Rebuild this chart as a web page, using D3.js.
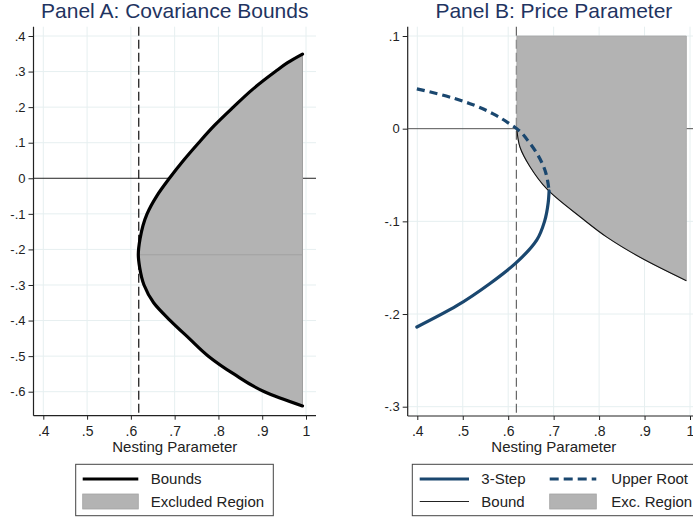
<!DOCTYPE html>
<html>
<head>
<meta charset="utf-8">
<script src="https://cdn.jsdelivr.net/npm/d3@7"></script>
<style>
  body { margin: 0; background: #fff; }
  text { font-family: Arial, 'Liberation Sans', Helvetica, sans-serif; }
</style>
</head>
<body>
<div id="canvas"></div>
<script>
// values
const xTicks = [0.4, 0.5, 0.6, 0.7, 0.8, 0.9, 1];
const yTicksA = [-0.6, -0.5, -0.4, -0.3, -0.2, -0.1, 0, 0.1, 0.2, 0.3, 0.4];
const yTicksB = [-0.3, -0.2, -0.1, 0, 0.1];
const cutoff = 0.618;

// panel A: bound traced from top end, round the tip, to bottom end
const boundA_x = [0.992, 0.958, 0.930, 0.878, 0.834, 0.792, 0.755, 0.720, 0.688, 0.659, 0.637, 0.621, 0.617,
                  0.620, 0.630, 0.652, 0.690, 0.733, 0.777, 0.835, 0.905, 0.992];
const boundA_y = [0.349, 0.325, 0.3, 0.25, 0.2, 0.15, 0.1, 0.05, 0, -0.05, -0.1, -0.17, -0.215,
                  -0.25, -0.3, -0.35, -0.4, -0.45, -0.5, -0.55, -0.6, -0.64];
const tipA = -0.215;

// panel B
const stepB_x = [0.399, 0.487, 0.560, 0.619, 0.663, 0.680, 0.688, 0.690];
const stepB_y = [-0.214, -0.191, -0.167, -0.144, -0.120, -0.100, -0.080, -0.067];
const rootB_x = [0.399, 0.450, 0.516, 0.567, 0.604, 0.619, 0.648, 0.678, 0.690];
const rootB_y = [0.043, 0.037, 0.027, 0.016, 0.005, 0, -0.016, -0.041, -0.067];
const boundB_x = [0.619, 0.626, 0.648, 0.685, 0.758, 0.817, 0.891, 0.992];
const boundB_y = [0, -0.020, -0.041, -0.065, -0.095, -0.117, -0.139, -0.164];
const excTopB = 0.1;

const W = 693, H = 521;
const navy = '#1a476f', fillGray = '#b3b3b3', gridCol = '#e6eff0', titleCol = '#1f3461';

const svg = d3.select('#canvas').append('svg')
  .attr('width', W).attr('height', H);

const fmt = d => String(Math.round(d * 10) / 10).replace(/^(-?)0\./, '$1.');

const panel = (cfg) => {
  const { left, right, top, bottom, x, y, yTicks, title } = cfg;
  const g = svg.append('g');

  // grid
  g.selectAll('.vg').data(xTicks).enter().append('line')
    .attr('x1', d => x(d)).attr('x2', d => x(d))
    .attr('y1', top).attr('y2', bottom)
    .attr('stroke', gridCol).attr('stroke-width', 1);
  g.selectAll('.hg').data(yTicks.filter(d => d !== 0)).enter().append('line')
    .attr('x1', left).attr('x2', right)
    .attr('y1', d => y(d)).attr('y2', d => y(d))
    .attr('stroke', gridCol).attr('stroke-width', 1);

  // axes
  const yAxis = d3.axisLeft(y).tickValues(yTicks).tickFormat(fmt).tickSize(5).tickSizeOuter(0).tickPadding(3);
  const ya = g.append('g').attr('transform', `translate(${left},0)`).call(yAxis);
  ya.select('.domain').remove();
  ya.selectAll('text').attr('font-size', '13px').attr('fill', '#222');
  ya.selectAll('line').attr('stroke', '#222');

  const xAxis = d3.axisBottom(x).tickValues(xTicks).tickFormat(fmt).tickSize(4).tickSizeOuter(0).tickPadding(6);
  const xa = g.append('g').attr('transform', `translate(0,${bottom})`).call(xAxis);
  xa.select('.domain').remove();
  xa.selectAll('text').attr('font-size', '14px').attr('fill', '#222');
  xa.selectAll('line').attr('stroke', '#222');

  g.append('line').attr('x1', left).attr('x2', left).attr('y1', top).attr('y2', bottom)
    .attr('stroke', '#222').attr('stroke-width', 1.2);
  g.append('line').attr('x1', left).attr('x2', right).attr('y1', bottom).attr('y2', bottom)
    .attr('stroke', '#222').attr('stroke-width', 1.2);

  g.append('text').text(title)
    .attr('x', (left + right) / 2).attr('y', 18)
    .attr('text-anchor', 'middle').attr('font-size', '21px').attr('fill', titleCol);
  g.append('text').text('Nesting Parameter')
    .attr('x', (left + right) / 2).attr('y', 452)
    .attr('text-anchor', 'middle').attr('font-size', '15px').attr('fill', '#222');
  return g;
};

// ---------- Panel A ----------
const xA = d3.scaleLinear().domain([0.4, 1]).range([43.3, 306]);
const yA = d3.scaleLinear().domain([-0.6, 0.4]).range([391.7, 36]);
const gA = panel({ left: 33.5, right: 316, top: 26.7, bottom: 415.7, x: xA, y: yA, yTicks: yTicksA, title: 'Panel A: Covariance Bounds' });

gA.append('line').attr('x1', 33.5).attr('x2', 316).attr('y1', yA(0)).attr('y2', yA(0))
  .attr('stroke', '#222').attr('stroke-width', 1);
gA.append('line').attr('x1', xA(cutoff)).attr('x2', xA(cutoff)).attr('y1', 26.7).attr('y2', 415.7)
  .attr('stroke', '#111').attr('stroke-width', 1.2).attr('stroke-dasharray', '9,4');

const ptsA = boundA_x.map((v, i) => [xA(v), yA(boundA_y[i])]);
const lineA = d3.line().curve(d3.curveMonotoneY);
gA.append('path').attr('d', lineA(ptsA) + 'Z')
  .attr('fill', fillGray).attr('stroke', 'none');
const tipX = d3.min(boundA_x);
gA.append('line').attr('x1', xA(tipX)).attr('x2', xA(boundA_x[0])).attr('y1', yA(tipA)).attr('y2', yA(tipA))
  .attr('stroke', '#9e9e9e').attr('stroke-width', 0.8);
gA.append('line').attr('x1', xA(boundA_x[0])).attr('x2', xA(boundA_x[0]))
  .attr('y1', yA(boundA_y[0])).attr('y2', yA(boundA_y[boundA_y.length - 1]))
  .attr('stroke', '#9e9e9e').attr('stroke-width', 1);
gA.append('path').attr('d', lineA(ptsA))
  .attr('fill', 'none').attr('stroke', '#000').attr('stroke-width', 3.2).attr('stroke-linecap', 'round');

// ---------- Panel B ----------
const xB = d3.scaleLinear().domain([0.4, 1]).range([417.3, 690]);
const yB = d3.scaleLinear().domain([-0.3, 0.1]).range([406.7, 36]);
const gB = panel({ left: 407.7, right: 700, top: 26.7, bottom: 416, x: xB, y: yB, yTicks: yTicksB, title: 'Panel B: Price Parameter' });

gB.append('line').attr('x1', 407.7).attr('x2', 700).attr('y1', yB(0)).attr('y2', yB(0))
  .attr('stroke', '#555').attr('stroke-width', 1);
gB.append('line').attr('x1', xB(cutoff)).attr('x2', xB(cutoff)).attr('y1', 26.7).attr('y2', 416)
  .attr('stroke', '#666').attr('stroke-width', 1.2).attr('stroke-dasharray', '9,4');

const lineB = d3.line().curve(d3.curveMonotoneY);
const ptsBound = boundB_x.map((v, i) => [xB(v), yB(boundB_y[i])]);
const xEnd = boundB_x[boundB_x.length - 1];
gB.append('path')
  .attr('d', lineB(ptsBound) + `L${xB(xEnd)},${yB(excTopB)}L${xB(boundB_x[0])},${yB(excTopB)}Z`)
  .attr('fill', fillGray).attr('stroke', '#a4a4a4').attr('stroke-width', 0.8);
gB.append('path').attr('d', lineB(ptsBound))
  .attr('fill', 'none').attr('stroke', '#111').attr('stroke-width', 1.1);

gB.append('path')
  .attr('d', lineB(rootB_x.map((v, i) => [xB(v), yB(rootB_y[i])])))
  .attr('fill', 'none').attr('stroke', navy).attr('stroke-width', 3.2).attr('stroke-dasharray', '8,5');
gB.append('path')
  .attr('d', lineB(stepB_x.map((v, i) => [xB(v), yB(stepB_y[i])]).reverse()))
  .attr('fill', 'none').attr('stroke', navy).attr('stroke-width', 3.2).attr('stroke-linecap', 'round');

// ---------- Legends ----------
const legBox = (x0, x1) => svg.append('rect')
  .attr('x', x0).attr('y', 464.3).attr('width', x1 - x0).attr('height', 51.4)
  .attr('fill', '#fff').attr('stroke', '#444').attr('stroke-width', 1);
const legText = (t, x, yc) => svg.append('text').text(t)
  .attr('x', x).attr('y', yc + 5).attr('font-size', '15px').attr('fill', '#222');
const legLine = (x0, x1, yc, col, w, dash) => svg.append('line')
  .attr('x1', x0).attr('x2', x1).attr('y1', yc).attr('y2', yc)
  .attr('stroke', col).attr('stroke-width', w).attr('stroke-dasharray', dash || null);
const legSwatch = (x0, x1, yc) => svg.append('rect')
  .attr('x', x0).attr('y', yc - 7.5).attr('width', x1 - x0).attr('height', 15)
  .attr('fill', fillGray).attr('stroke', '#a4a4a4').attr('stroke-width', 0.8);

legBox(75.7, 273.3);
legLine(82.7, 138.3, 479, '#000', 3.2);
legText('Bounds', 150.7, 479);
legSwatch(82.7, 138.3, 501.5);
legText('Excluded Region', 150.7, 501.5);

legBox(412.3, 696);
legLine(419.7, 469, 479, navy, 3.2);
legText('3-Step', 481.3, 479);
legLine(549.7, 596.3, 479, navy, 3.2, '9,5');
legText('Upper Root', 611.3, 479);
legLine(419.7, 469, 501.5, '#222', 1.1);
legText('Bound', 481.3, 501.5);
legSwatch(549.7, 596.3, 501.5);
legText('Exc. Region', 611.3, 501.5);
</script>
</body>
</html>
